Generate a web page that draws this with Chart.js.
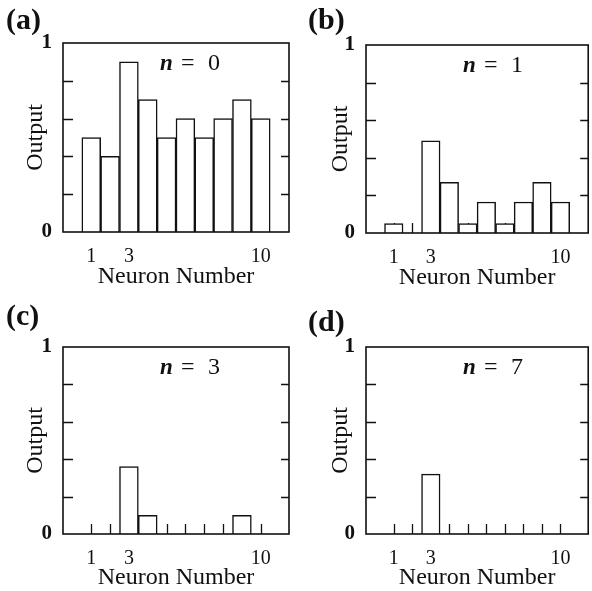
<!DOCTYPE html>
<html>
<head>
<meta charset="utf-8">
<title>Neuron output vs. n</title>
<script src="https://cdn.jsdelivr.net/npm/chart.js@4.4.1/dist/chart.umd.min.js"></script>
<style>
  html, body { margin: 0; padding: 0; background: #fff; overflow: hidden; }
  #wrap { position: relative; width: 592px; height: 591px; }
  #wrap canvas { position: absolute; }
</style>
</head>
<body>
<div id="wrap">
  <canvas id="panelA" width="296" height="295" style="left:0;top:0"></canvas>
  <canvas id="panelB" width="296" height="295" style="left:296px;top:0"></canvas>
  <canvas id="panelC" width="296" height="296" style="left:0;top:295px"></canvas>
  <canvas id="panelD" width="296" height="296" style="left:296px;top:295px"></canvas>
</div>
<script>
// Data
const NEURONS = [1, 2, 3, 4, 5, 6, 7, 8, 9, 10];
const LABELLED_NEURONS = [1, 3, 10];
const Y_TICKS = [0, 0.2, 0.4, 0.6, 0.8, 1];
const Y_LABELLED = [0, 1];
const OUTPUT_N0 = [0.5, 0.4, 0.9, 0.7, 0.5, 0.6, 0.5, 0.6, 0.7, 0.6];
const OUTPUT_N1 = [0.05, 0, 0.49, 0.27, 0.05, 0.165, 0.05, 0.165, 0.27, 0.165];
const OUTPUT_N3 = [0, 0, 0.36, 0.1, 0, 0, 0, 0, 0.1, 0];
const OUTPUT_N7 = [0, 0, 0.32, 0, 0, 0, 0, 0, 0, 0];

const SERIF = "'Liberation Serif', 'Times New Roman', serif";
const INK = '#111';

// one empty slot on each side of neurons 1..10
const X_CATEGORIES = [0, ...NEURONS, NEURONS.length + 1];

// Frame, inward ticks, panel letter and "n = k" note
const panelDecor = {
    id: 'panelDecor',
    beforeDatasetsDraw(chart, args, opts) {
        const { ctx, chartArea: a, scales: { x } } = chart;
        ctx.save();
        ctx.strokeStyle = INK;
        ctx.lineWidth = 1.3;
        NEURONS.forEach(n => {
            const px = Math.round(x.getPixelForValue(n)) + 0.5;
            ctx.beginPath();
            ctx.moveTo(px, a.bottom);
            ctx.lineTo(px, a.bottom - 10);
            ctx.stroke();
        });
        ctx.restore();
    },
    afterDraw(chart, args, opts) {
        const { ctx, chartArea: a, scales: { y } } = chart;
        ctx.save();
        ctx.strokeStyle = INK;
        ctx.lineWidth = 1.6;
        ctx.strokeRect(a.left, a.top, a.right - a.left, a.bottom - a.top);

        ctx.lineWidth = 1.3;
        Y_TICKS.filter(v => v > 0 && v < 1).forEach(v => {
            const py = Math.round(y.getPixelForValue(v)) + 0.5;
            ctx.beginPath();
            ctx.moveTo(a.left, py);
            ctx.lineTo(a.left + 10, py);
            ctx.moveTo(a.right, py);
            ctx.lineTo(a.right - 8, py);
            ctx.stroke();
        });

        ctx.fillStyle = INK;
        ctx.textBaseline = 'middle';
        ctx.textAlign = 'left';
        ctx.font = 'bold 30px ' + SERIF;
        ctx.fillText(opts.letter, opts.letterX, opts.letterY);

        const ny = a.top + 21;
        ctx.font = 'italic bold 23px ' + SERIF;
        ctx.fillText('n', a.left + 97, ny);
        ctx.font = '24px ' + SERIF;
        ctx.fillText('=', a.left + 118, ny);
        ctx.fillText(String(opts.n), a.left + 145, ny);
        ctx.restore();
    }
};

/**
 * Create one histogram panel
 */
function createPanel(id, values, cfg) {
    return new Chart(document.getElementById(id), {
        type: 'bar',
        data: {
            labels: X_CATEGORIES,
            datasets: [{
                data: [null, ...values, null],
                backgroundColor: '#fff',
                borderColor: INK,
                borderWidth: 1.5,
                barPercentage: 1,
                categoryPercentage: 1
            }]
        },
        options: {
            responsive: false,
            animation: false,
            layout: {
                padding: { top: cfg.padTop, right: cfg.padRight, left: 0, bottom: 0 }
            },
            plugins: {
                legend: { display: false },
                tooltip: { enabled: false },
                panelDecor: cfg
            },
            scales: {
                x: {
                    offset: true,
                    grid: { display: false, drawTicks: false },
                    border: { display: false },
                    ticks: {
                        autoSkip: false,
                        maxRotation: 0,
                        padding: 13,
                        color: INK,
                        font: { family: SERIF, size: 20 },
                        callback: (v, i) => LABELLED_NEURONS.includes(X_CATEGORIES[i]) ? String(X_CATEGORIES[i]) : ''
                    },
                    title: {
                        display: true,
                        text: 'Neuron Number',
                        color: INK,
                        font: { family: SERIF, size: 24, lineHeight: 1 },
                        padding: { top: 0, bottom: cfg.xTitlePad }
                    },
                    afterFit(scale) { scale.height = cfg.xHeight; }
                },
                y: {
                    min: 0,
                    max: 1,
                    grid: { display: false, drawTicks: false },
                    border: { display: false },
                    ticks: {
                        stepSize: 0.2,
                        padding: 11,
                        color: INK,
                        font: { family: SERIF, size: 21, weight: 'bold' },
                        callback: v => Y_LABELLED.includes(v) ? String(v) : ''
                    },
                    title: {
                        display: true,
                        text: 'Output',
                        color: INK,
                        font: { family: SERIF, size: 24 },
                        padding: { top: cfg.titlePad, bottom: 0 }
                    },
                    afterFit(scale) { scale.width = cfg.yWidth; }
                }
            }
        },
        plugins: [panelDecor]
    });
}

createPanel('panelA', OUTPUT_N0, {
    letter: '(a)', n: 0, letterX: 6, letterY: 21,
    yWidth: 63, padTop: 43, padRight: 7, xHeight: 63, titlePad: 21, xTitlePad: 6
});
createPanel('panelB', OUTPUT_N1, {
    letter: '(b)', n: 1, letterX: 12, letterY: 21,
    yWidth: 70, padTop: 45, padRight: 1, xHeight: 62, titlePad: 30, xTitlePad: 5
});
createPanel('panelC', OUTPUT_N3, {
    letter: '(c)', n: 3, letterX: 6, letterY: 22,
    yWidth: 63, padTop: 52, padRight: 7, xHeight: 57, titlePad: 21, xTitlePad: 1
});
createPanel('panelD', OUTPUT_N7, {
    letter: '(d)', n: 7, letterX: 12, letterY: 28,
    yWidth: 70, padTop: 52, padRight: 1, xHeight: 57, titlePad: 30, xTitlePad: 1
});
</script>
</body>
</html>
